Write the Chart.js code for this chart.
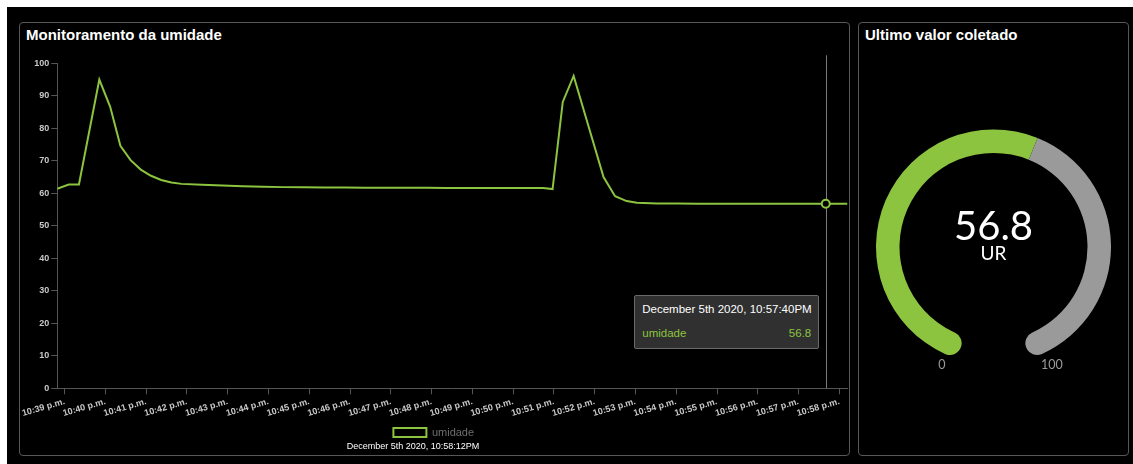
<!DOCTYPE html>
<html lang="pt">
<head>
<meta charset="utf-8">
<title>Monitoramento da umidade</title>
<script src="https://cdn.jsdelivr.net/npm/chart.js@4/dist/chart.umd.min.js"></script>
<style>
  html, body { margin:0; padding:0; width:1133px; height:464px; overflow:hidden; background:#fff; }
  #board { position:absolute; left:7px; top:7px; right:0; bottom:0; background:#000; }
  .panel { position:absolute; box-sizing:border-box; border:1px solid #575757; border-radius:4px; }
  #p1 { left:19px; top:22px; width:831px; height:434px; }
  #p2 { left:858px; top:22px; width:271px; height:434px; }
  .panel-title { position:absolute; top:26px; font:bold 15px "Liberation Sans", Arial, sans-serif; color:#fff; line-height:17px; white-space:nowrap; }
  canvas { position:absolute; }
  #lineCanvas { left:20px; top:50px; }
  #gaugeCanvas { left:876px; top:94px; }
  #updated { position:absolute; left:413px; top:441px; transform:translateX(-50%); font:9px "Liberation Sans", Arial, sans-serif; color:#fff; line-height:11px; white-space:nowrap; }
  #tip { position:absolute; display:none; box-sizing:border-box; width:185px; background:#303030; border:1px solid #6a6a6a; border-radius:2px; padding:6px 7px 8px 7px; font:11.5px "Liberation Sans", Arial, sans-serif; color:#fff; }
  #tip .t-title { line-height:14px; height:14px; white-space:nowrap; margin-bottom:10px; }
  #tip .t-body { line-height:14px; height:14px; display:flex; justify-content:space-between; }
</style>
</head>
<body>
<div id="board"></div>
<div class="panel" id="p1"></div>
<div class="panel" id="p2"></div>
<div class="panel-title" style="left:26px;">Monitoramento da umidade</div>
<div class="panel-title" style="left:865px;">Ultimo valor coletado</div>
<canvas id="lineCanvas" width="829" height="404" style="width:829px;height:404px;"></canvas>
<canvas id="gaugeCanvas" width="235" height="300" style="width:235px;height:300px;"></canvas>
<div id="updated"></div>
<div id="tip"><div class="t-title"></div><div class="t-body"><span class="t-name"></span><span class="t-val"></span></div></div>
<script>
// ---- data ----
const dateLabel = 'December 5th 2020';
const seriesName = 'umidade';

const sampleTimes = [
  '22:38:49','22:39:06','22:39:21','22:39:51','22:40:07','22:40:22','22:40:37','22:40:52',
  '22:41:07','22:41:22','22:41:37','22:41:52','22:42:22','22:42:52','22:43:22','22:43:52',
  '22:44:22','22:44:52','22:45:22','22:45:52','22:46:22','22:46:52','22:47:22','22:47:52',
  '22:48:22','22:48:52','22:49:22','22:49:52','22:50:22','22:50:44','22:50:58','22:51:13',
  '22:51:29','22:52:13','22:52:30','22:52:47','22:53:02','22:53:32','22:54:02','22:54:32',
  '22:55:02','22:55:32','22:56:02','22:56:32','22:57:02','22:57:20','22:57:40','22:58:12'
];
const humidity = [
  61.4, 62.7, 62.7, 95.0, 86.6, 74.6, 70.2, 67.3,
  65.4, 64.1, 63.3, 62.9, 62.6, 62.4, 62.2, 62.0,
  61.9, 61.9, 61.8, 61.8, 61.7, 61.7, 61.7, 61.7,
  61.6, 61.6, 61.6, 61.6, 61.6, 61.6, 61.3, 88.1,
  96.1, 65.0, 59.1, 57.6, 57.1, 56.9, 56.9, 56.8,
  56.8, 56.8, 56.8, 56.8, 56.8, 56.8, 56.8, 56.8
];
const tickLabels = [
  '10:39 p.m.','10:40 p.m.','10:41 p.m.','10:42 p.m.','10:43 p.m.','10:44 p.m.','10:45 p.m.',
  '10:46 p.m.','10:47 p.m.','10:48 p.m.','10:49 p.m.','10:50 p.m.','10:51 p.m.','10:52 p.m.',
  '10:53 p.m.','10:54 p.m.','10:55 p.m.','10:56 p.m.','10:57 p.m.','10:58 p.m.'
];
const yTicks = [0, 100, 10];          // min, max, step
const hoverTime = '22:57:40';
const gaugeRange = [0, 100];
const gaugeUnit = 'UR';

// ---- helpers ----
const GREEN = '#8cc43f';
const GREY = '#9a9a9a';
const pad2 = n => String(n).padStart(2, '0');
function toSeconds(hms) {
  const p = hms.split(':').map(Number);
  return p[0] * 3600 + p[1] * 60 + (p[2] || 0);
}
function labelToSeconds(lbl) {
  const m = lbl.match(/(\d+):(\d+)\s*([ap])/);
  let h = Number(m[1]) % 12;
  if (m[3] === 'p') h += 12;
  return h * 3600 + Number(m[2]) * 60;
}
function stamp(sec) {
  const h = Math.floor(sec / 3600), m = Math.floor(sec / 60) % 60, s = sec % 60;
  return `${dateLabel}, ${h % 12 || 12}:${pad2(m)}:${pad2(s)}${h < 12 ? 'AM' : 'PM'}`;
}

const xs = sampleTimes.map(toSeconds);
const points = xs.map((x, i) => ({ x, y: humidity[i] }));
const tickValues = tickLabels.map(labelToSeconds);
const hoverIndex = sampleTimes.indexOf(hoverTime);
const lastValue = humidity[humidity.length - 1];

document.getElementById('updated').textContent = stamp(xs[xs.length - 1]);

// vertical guide at the active point + html tooltip
const hoverGuide = {
  id: 'hoverGuide',
  beforeDatasetsDraw(chart) {
    const act = chart.getActiveElements();
    if (!act.length) return;
    const { ctx, chartArea } = chart;
    const x = Math.round(act[0].element.x) + 0.5;
    ctx.save();
    ctx.strokeStyle = '#7a7a7a';
    ctx.lineWidth = 1;
    ctx.beginPath();
    ctx.moveTo(x, chartArea.top - 8);
    ctx.lineTo(x, chartArea.bottom);
    ctx.stroke();
    ctx.restore();
  },
  afterDraw(chart) {
    const act = chart.getActiveElements();
    const tip = document.getElementById('tip');
    if (!act.length) { tip.style.display = 'none'; return; }
    const { element, index } = act[0];
    const { chartArea } = chart;
    const cv = chart.canvas;
    tip.querySelector('.t-title').textContent = stamp(xs[index]);
    tip.querySelector('.t-name').textContent = seriesName;
    tip.querySelector('.t-val').textContent = humidity[index];
    tip.querySelector('.t-body').style.color = GREEN;
    tip.style.display = 'block';
    tip.style.left = (cv.offsetLeft + element.x - 6.5 - 185) + 'px';
    tip.style.top = (cv.offsetTop + chartArea.top + (chartArea.bottom - chartArea.top) * 0.712) + 'px';
  }
};

const tickFont = { family: '"Liberation Sans", Arial, sans-serif', size: 9, weight: 'bold' };

const lineChart = new Chart(document.getElementById('lineCanvas'), {
  type: 'line',
  data: {
    datasets: [{
      label: seriesName,
      data: points,
      borderColor: GREEN,
      backgroundColor: '#000',
      borderWidth: 2,
      tension: 0,
      fill: false,
      pointRadius: 0,
      pointHoverRadius: 4,
      pointHoverBorderWidth: 2,
      pointHoverBackgroundColor: '#000',
      pointHoverBorderColor: GREEN
    }]
  },
  options: {
    responsive: false,
    devicePixelRatio: 1,
    animation: false,
    events: [],
    layout: { padding: { top: 13.3, right: 1.5, bottom: 6, left: 0 } },
    scales: {
      x: {
        type: 'linear',
        min: xs[0],
        max: xs[xs.length - 1],
        grid: { display: true, drawOnChartArea: false, drawTicks: true, tickLength: 6, color: '#555' },
        border: { display: true, color: '#555' },
        ticks: {
          autoSkip: false,
          minRotation: 16,
          maxRotation: 16,
          color: '#c8c8c8',
          font: tickFont,
          padding: 2,
          callback: (v) => {
            const i = tickValues.indexOf(v);
            return i >= 0 ? tickLabels[i] : '';
          }
        },
        afterBuildTicks: (scale) => { scale.ticks = tickValues.map(v => ({ value: v })); },
        afterFit: (scale) => { scale.height = 33.7; }
      },
      y: {
        min: yTicks[0],
        max: yTicks[1],
        grid: { display: true, drawOnChartArea: false, drawTicks: true, tickLength: 6, color: '#555' },
        border: { display: true, color: '#555' },
        ticks: { stepSize: yTicks[2], color: '#c8c8c8', font: tickFont, padding: 2 },
        afterFit: (scale) => { scale.width = 37; }
      }
    },
    plugins: {
      legend: {
        position: 'bottom',
        labels: {
          boxWidth: 33,
          boxHeight: 9,
          padding: 5,
          color: '#6e6e6e',
          font: { family: '"Liberation Sans", Arial, sans-serif', size: 11 }
        }
      },
      title: { display: false },
      tooltip: { enabled: false }
    }
  },
  plugins: [hoverGuide]
});

lineChart.setActiveElements([{ datasetIndex: 0, index: hoverIndex }]);
lineChart.update();

// ---- gauge ----
const gaugeText = {
  id: 'gaugeText',
  afterDraw(chart) {
    const arc = chart.getDatasetMeta(0).data[0];
    if (!arc) return;
    const { ctx } = chart;
    const cx = arc.x, cy = arc.y;
    ctx.save();
    ctx.textAlign = 'center';
    ctx.textBaseline = 'alphabetic';
    ctx.fillStyle = '#fff';
    ctx.font = '40px Lato, "Open Sans", sans-serif';
    ctx.fillText(String(lastValue), cx, cy - 6.6);
    ctx.font = '19px Lato, "Open Sans", sans-serif';
    ctx.fillText(gaugeUnit, cx, cy + 12.7);
    ctx.fillStyle = GREY;
    ctx.font = '12.5px Lato, "Open Sans", sans-serif';
    ctx.fillText(String(gaugeRange[0]), cx - 51.7, cy + 122);
    ctx.fillText(String(gaugeRange[1]), cx + 58.3, cy + 122);
    ctx.restore();
  }
};

const capR = 12;
new Chart(document.getElementById('gaugeCanvas'), {
  type: 'doughnut',
  data: {
    labels: [seriesName, ''],
    datasets: [{
      data: [lastValue - gaugeRange[0], gaugeRange[1] - lastValue],
      backgroundColor: [GREEN, GREY],
      borderWidth: 0,
      borderRadius: (c) => c.dataIndex === 0
        ? { outerStart: capR, innerStart: capR, outerEnd: 0, innerEnd: 0 }
        : { outerStart: 0, innerStart: 0, outerEnd: capR, innerEnd: capR }
    }]
  },
  options: {
    responsive: false,
    devicePixelRatio: 1,
    animation: false,
    events: [],
    rotation: 198,
    circumference: 324,
    cutout: '80%',
    layout: { padding: 0 },
    plugins: { legend: { display: false }, tooltip: { enabled: false } }
  },
  plugins: [gaugeText]
});
</script>
</body>
</html>
